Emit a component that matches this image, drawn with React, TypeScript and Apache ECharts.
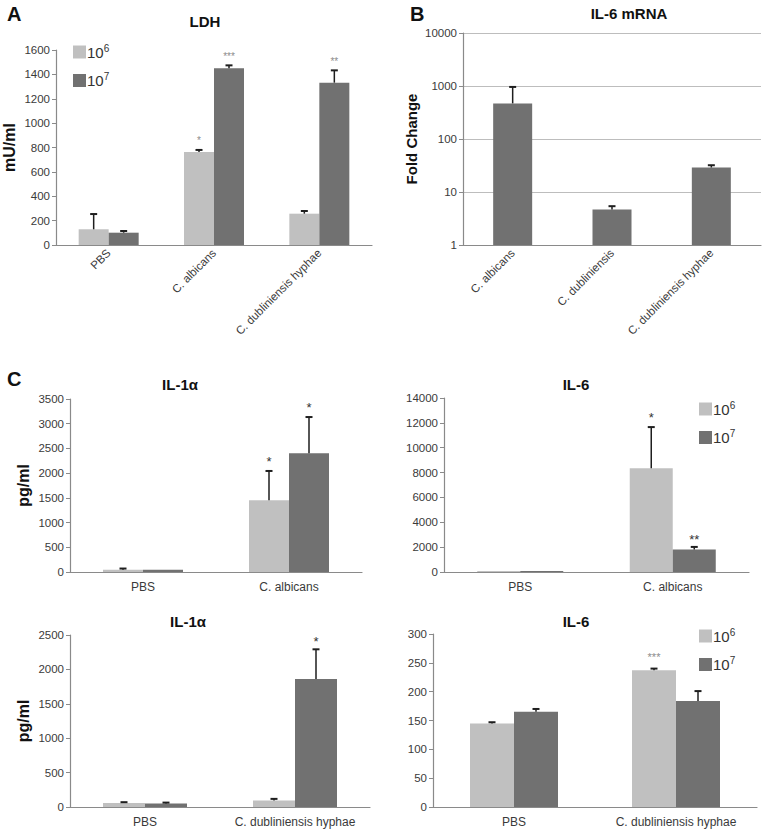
import React, { useEffect, useRef } from "react";
import * as echarts from "echarts";

// ---------- data ----------
const ldhCats = ["PBS", "C. albicans", "C. dubliniensis hyphae"];
const ldh6 = [129, 763, 257];
const ldh6Top = [254, 780, 279];
const ldh7 = [101, 1450, 1332];
const ldh7Top = [115, 1474, 1433];
const ldh6Stars = ["", "*", ""];
const ldh7Stars = ["", "***", "**"];

const mrnaCats = ["C. albicans", "C. dubliniensis", "C. dubliniensis hyphae"];
const mrna = [470, 4.7, 29];
const mrnaTop = [960, 5.4, 32];

const albCats = ["PBS", "C. albicans"];
const il1a6 = [45, 1450];
const il1a6Top = [70, 2044];
const il1a7 = [45, 2404];
const il1a7Top = [45, 3135];
const il1a6Stars = ["", "*"];
const il1a7Stars = ["", "*"];

const il6a6 = [80, 8350];
const il6a6Top = [80, 11660];
const il6a7 = [90, 1808];
const il6a7Top = [90, 2018];
const il6a6Stars = ["", "*"];
const il6a7Stars = ["", "**"];

const hyCats = ["PBS", "C. dubliniensis hyphae"];
const il1h6 = [58, 96];
const il1h6Top = [70, 118];
const il1h7 = [52, 1862];
const il1h7Top = [64, 2292];
const il1h7Stars = ["", "*"];

const il6h6 = [145, 237];
const il6h6Top = [147, 240];
const il6h7 = [165, 184];
const il6h7Top = [170, 201];
const il6h6Stars = ["", "***"];

const S6 = "10^6";
const S7 = "10^7";

// ---------- styles ----------
const LIGHT = "#c0c0c0";
const DARK = "#717171";
const FONT = "Liberation Sans, Arial, sans-serif";
const AXIS = "#8a8a8a";
const LABEL = "#3a3a3a";

const plain = (v: number) => String(v);

function errSeries(grid: number, vals: number[], tops: number[], offset: number) {
  return {
    type: "custom",
    xAxisIndex: grid,
    yAxisIndex: grid,
    z: 5,
    silent: true,
    data: vals.map((v, i) => [i, v, tops[i]]),
    renderItem: (params: any, api: any) => {
      const i = api.value(0);
      const v = api.value(1);
      const t = api.value(2);
      if (!(t > v)) return { type: "group", children: [] };
      const p0 = api.coord([i, v]);
      const p1 = api.coord([i, t]);
      const x = p0[0] + offset;
      return {
        type: "group",
        children: [
          { type: "line", shape: { x1: x, y1: p0[1], x2: x, y2: p1[1] }, style: { stroke: "#1e1e1e", lineWidth: 1.5 } },
          { type: "line", shape: { x1: x - 3.5, y1: p1[1], x2: x + 3.5, y2: p1[1] }, style: { stroke: "#1e1e1e", lineWidth: 2 } },
        ],
      };
    },
  };
}

function starSeries(grid: number, tops: number[], stars: string[], offset: number, color: string, size: number, gap: number) {
  return {
    type: "custom",
    xAxisIndex: grid,
    yAxisIndex: grid,
    z: 6,
    silent: true,
    data: tops.map((t, i) => [i, t]),
    renderItem: (params: any, api: any) => {
      const s = stars[params.dataIndex];
      if (!s) return { type: "group", children: [] };
      const p = api.coord([api.value(0), api.value(1)]);
      return {
        type: "text",
        x: p[0] + offset,
        y: p[1] - gap,
        style: { text: s, fill: color, fontSize: size, fontFamily: FONT, align: "center", verticalAlign: "bottom" },
      };
    },
  };
}

function barSeries(grid: number, name: string, data: number[], color: string, width: number) {
  return {
    type: "bar",
    name,
    xAxisIndex: grid,
    yAxisIndex: grid,
    data,
    barWidth: width,
    barGap: "0%",
    itemStyle: { color },
  };
}

function xAx(grid: number, cats: string[], rotate: number, size: number) {
  return {
    type: "category",
    gridIndex: grid,
    data: cats,
    axisLine: { lineStyle: { color: AXIS, width: 1.2 } },
    axisTick: { show: false },
    axisLabel: { rotate, fontSize: size, color: LABEL, fontFamily: FONT, margin: rotate ? 6 : 9, interval: 0 },
  };
}

function yAx(grid: number, max: number, interval: number, name: string, nameGap: number) {
  return {
    type: "value",
    gridIndex: grid,
    min: 0,
    max,
    interval,
    name,
    nameLocation: "middle",
    nameGap,
    nameTextStyle: { fontSize: 16, fontWeight: "bold", color: "#111", fontFamily: FONT },
    axisLine: { show: true, lineStyle: { color: AXIS, width: 1.2 } },
    axisTick: { show: true, length: 4, lineStyle: { color: AXIS } },
    axisLabel: { fontSize: 11.5, color: LABEL, fontFamily: FONT, margin: 6, formatter: plain },
    splitLine: { show: false },
  };
}

function legendAt(left: number, top: number) {
  return {
    left,
    top,
    orient: "vertical",
    itemWidth: 13,
    itemHeight: 13,
    itemGap: 12,
    padding: 0,
    icon: "rect",
    data: [S6, S7],
    formatter: (n: string) => (n === S6 ? "10{s|6}" : "10{s|7}"),
    textStyle: {
      fontSize: 15,
      color: "#333",
      fontFamily: FONT,
      padding: [0, 0, 0, -4],
      rich: {
        s: { fontSize: 10, color: "#333", fontFamily: FONT, padding: [0, 0, 8, 0] },
      },
    },
  };
}

function titleAt(text: string, x: number, y: number, size = 15) {
  return {
    text,
    left: x,
    top: y,
    textAlign: "center",
    padding: 0,
    textStyle: { fontSize: size, fontWeight: "bold", color: "#111", fontFamily: FONT },
  };
}

export default function App() {
  const ref = useRef<HTMLDivElement>(null);
  useEffect(() => {
    if (!ref.current) return;
    const chart = echarts.init(ref.current, undefined, { renderer: "svg" });
    const option: any = {
      animation: false,
      backgroundColor: "#ffffff",
      title: [
        { text: "A", left: 7, top: 4, padding: 0, textStyle: { fontSize: 20, fontWeight: "bold", color: "#111", fontFamily: FONT } },
        { text: "B", left: 410, top: 4, padding: 0, textStyle: { fontSize: 20, fontWeight: "bold", color: "#111", fontFamily: FONT } },
        { text: "C", left: 7, top: 369, padding: 0, textStyle: { fontSize: 20, fontWeight: "bold", color: "#111", fontFamily: FONT } },
        titleAt("LDH", 205, 14),
        titleAt("IL-6 mRNA", 629, 6),
        titleAt("IL-1α", 180, 377),
        titleAt("IL-6", 576, 377),
        titleAt("IL-1α", 188, 614),
        titleAt("IL-6", 576, 614),
      ],
      legend: [legendAt(73, 43), legendAt(699, 400), legendAt(699, 627)],
      grid: [
        { left: 55, top: 50, width: 317, height: 195 },
        { left: 463, top: 33, width: 298, height: 212 },
        { left: 70, top: 399, width: 292, height: 173 },
        { left: 444, top: 398, width: 305, height: 174 },
        { left: 70, top: 635, width: 300, height: 172 },
        { left: 433, top: 634, width: 324, height: 173 },
      ],
      xAxis: [
        xAx(0, ldhCats, 45, 11.5),
        xAx(1, mrnaCats, 45, 11.5),
        xAx(2, albCats, 0, 12),
        xAx(3, albCats, 0, 12),
        xAx(4, hyCats, 0, 12),
        xAx(5, hyCats, 0, 12),
      ],
      yAxis: [
        yAx(0, 1600, 200, "mU/ml", 39),
        {
          type: "log",
          gridIndex: 1,
          logBase: 10,
          min: 1,
          max: 10000,
          name: "Fold Change",
          nameLocation: "middle",
          nameGap: 44,
          nameTextStyle: { fontSize: 15, fontWeight: "bold", color: "#111", fontFamily: FONT },
          axisLine: { show: true, lineStyle: { color: AXIS, width: 1.2 } },
          axisTick: { show: true, length: 4, lineStyle: { color: AXIS } },
          axisLabel: { fontSize: 11.5, color: LABEL, fontFamily: FONT, margin: 6, formatter: plain },
          splitLine: { show: true, lineStyle: { color: "#bdbdbd", width: 1 } },
        },
        yAx(2, 3500, 500, "pg/ml", 39),
        yAx(3, 14000, 2000, "", 40),
        yAx(4, 2500, 500, "pg/ml", 39),
        yAx(5, 300, 50, "", 40),
      ],
      series: [
        barSeries(0, S6, ldh6, LIGHT, 30),
        barSeries(0, S7, ldh7, DARK, 30),
        errSeries(0, ldh6, ldh6Top, -15),
        errSeries(0, ldh7, ldh7Top, 15),
        starSeries(0, ldh6Top, ldh6Stars, -15, "#8c8c8c", 10, 4),
        starSeries(0, ldh7Top, ldh7Stars, 15, "#8c8c8c", 10, 4),

        { ...barSeries(1, "mrna", mrna, DARK, 39) },
        errSeries(1, mrna, mrnaTop, 0),

        barSeries(2, S6, il1a6, LIGHT, 40),
        barSeries(2, S7, il1a7, DARK, 40),
        errSeries(2, il1a6, il1a6Top, -20),
        errSeries(2, il1a7, il1a7Top, 20),
        starSeries(2, il1a6Top, il1a6Stars, -20, "#333", 13, 3),
        starSeries(2, il1a7Top, il1a7Stars, 20, "#333", 13, 3),

        barSeries(3, S6, il6a6, LIGHT, 43),
        barSeries(3, S7, il6a7, DARK, 43),
        errSeries(3, il6a6, il6a6Top, -21.5),
        errSeries(3, il6a7, il6a7Top, 21.5),
        starSeries(3, il6a6Top, il6a6Stars, -21.5, "#333", 13, 3),
        starSeries(3, il6a7Top, il6a7Stars, 21.5, "#333", 13, 1),

        barSeries(4, S6, il1h6, LIGHT, 42),
        barSeries(4, S7, il1h7, DARK, 42),
        errSeries(4, il1h6, il1h6Top, -21),
        errSeries(4, il1h7, il1h7Top, 21),
        starSeries(4, il1h7Top, il1h7Stars, 21, "#333", 13, 1),

        barSeries(5, S6, il6h6, LIGHT, 44),
        barSeries(5, S7, il6h7, DARK, 44),
        errSeries(5, il6h6, il6h6Top, -22),
        errSeries(5, il6h7, il6h7Top, 22),
        starSeries(5, il6h6Top, il6h6Stars, -22, "#8c8c8c", 11, 6),
      ],
    };
    chart.setOption(option);
    return () => chart.dispose();
  }, []);
  return (
    <div
      ref={ref}
      style={{ position: "fixed", left: 0, top: 0, width: 768, height: 835, background: "#fff" }}
    />
  );
}
